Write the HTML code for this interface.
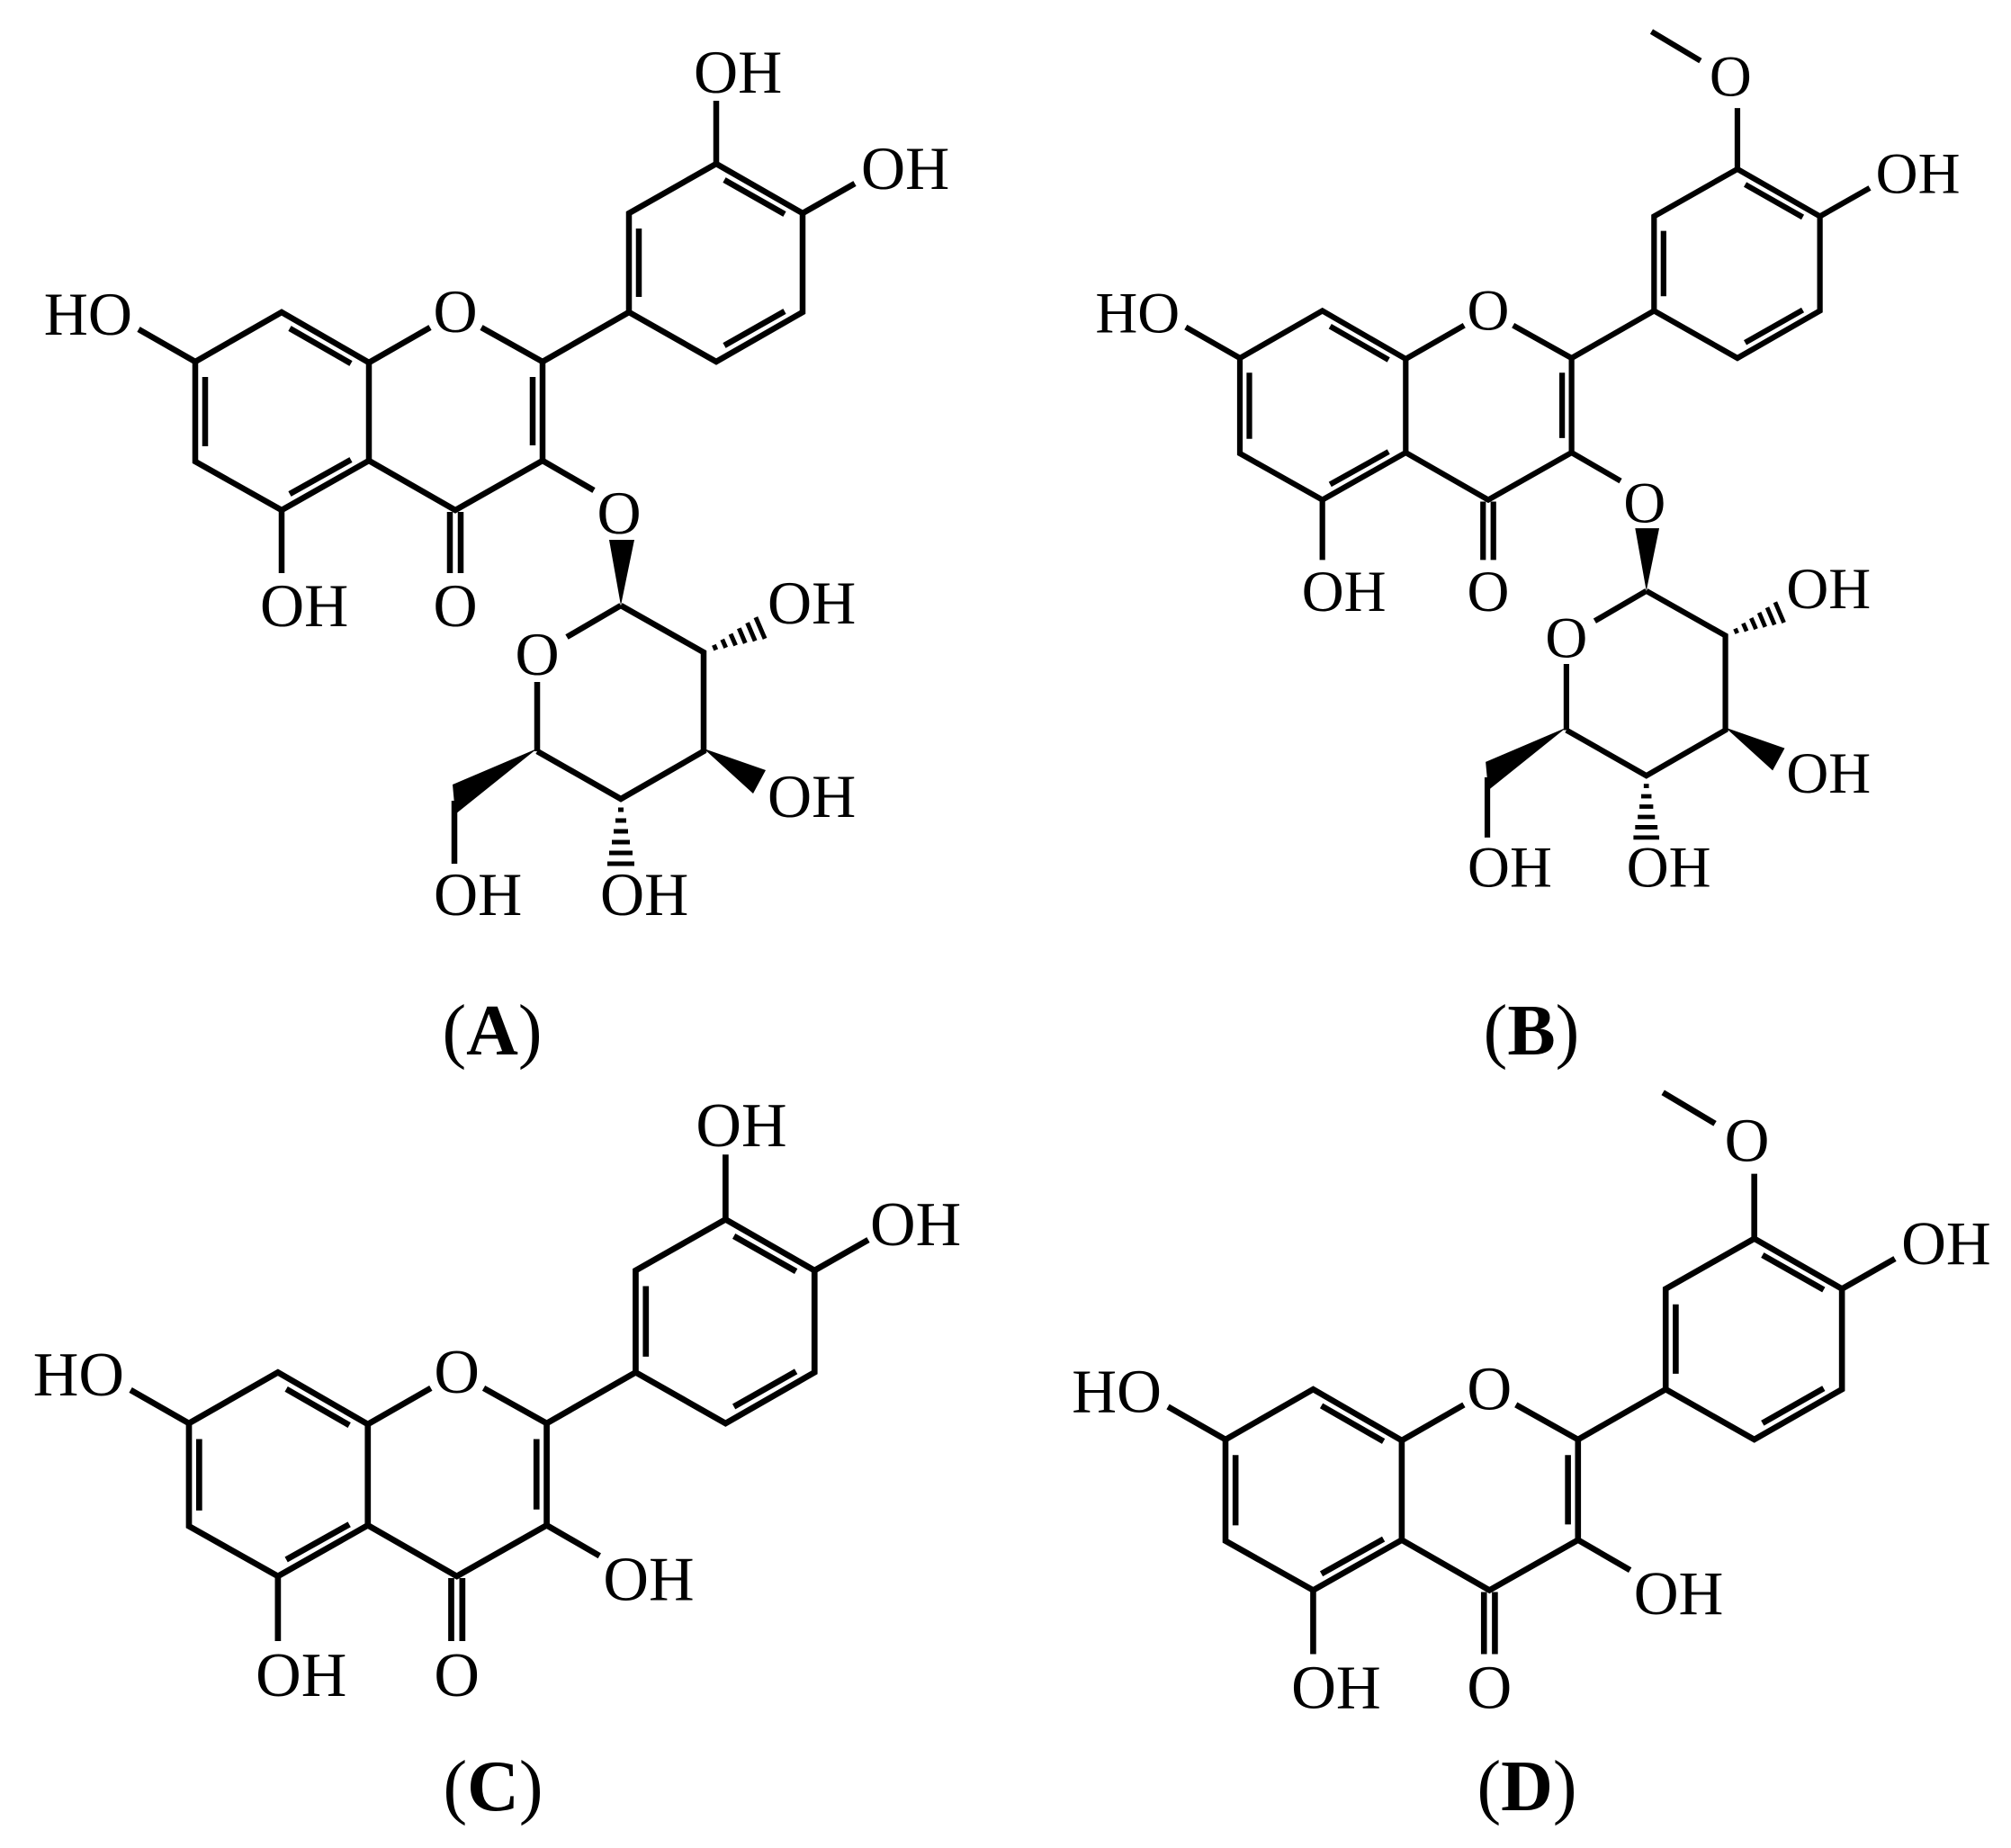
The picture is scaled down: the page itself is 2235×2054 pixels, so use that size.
<!DOCTYPE html>
<html><head><meta charset="utf-8"><style>
html,body{margin:0;padding:0;background:#fff;}
svg{display:block;}
text{font-family:"Liberation Serif","Times New Roman",Times,serif;fill:#000;}
.t{font-size:68px;}
.lab{font-size:80px;}
</style></head><body>
<svg width="2235" height="2054" viewBox="0 0 2235 2054" xmlns="http://www.w3.org/2000/svg" font-family="Liberation Serif, Times New Roman, Times, serif">
<defs>
<g id="core" fill="none" stroke="#000" stroke-width="6.5" stroke-linejoin="miter" stroke-linecap="butt">
  <polyline points="410,403 313,347 217,402 217,513 313,567 410,512 410,403"/>
  <line x1="228" y1="419" x2="228" y2="496"/>
  <line x1="322" y1="365" x2="390" y2="404"/>
  <line x1="390" y1="511" x2="322" y2="549"/>
  <line x1="410" y1="403" x2="478" y2="364"/>
  <polyline points="535,364 603,402 603,512 506,567 410,512"/>
  <line x1="592" y1="419" x2="592" y2="495"/>
  <line x1="500" y1="569" x2="500" y2="637"/>
  <line x1="512" y1="569" x2="512" y2="637"/>
  <line x1="313" y1="567" x2="313" y2="637"/>
  <line x1="217" y1="402" x2="154" y2="366"/>
  <line x1="603" y1="402" x2="699" y2="347"/>
  <polygon points="699,347 699,237 796,182 892,237 892,347 796,402"/>
  <line x1="710" y1="254" x2="710" y2="330"/>
  <line x1="805" y1="200" x2="872" y2="238"/>
  <line x1="872" y1="346" x2="805" y2="384"/>
  <line x1="892" y1="237" x2="950" y2="204"/>
  <line x1="603" y1="512" x2="660" y2="545"/>
</g>
<g id="cat" stroke="#000" stroke-width="6.5" fill="none">
  <line x1="796" y1="182" x2="796" y2="112"/>
</g>
<g id="ome" stroke="#000" stroke-width="6.5" fill="none">
  <line x1="796" y1="182" x2="796" y2="111"/>
  <line x1="753" y1="56" x2="696" y2="22"/>
</g>
<g id="sugar" stroke="#000" stroke-width="6.5" fill="none">
  <polygon points="677,600 705,600 690,673" fill="#000" stroke="none"/>
  <line x1="690" y1="673" x2="630" y2="708"/>
  <line x1="597" y1="758" x2="597" y2="835"/>
  <polyline points="690,673 782,725 782,835 690,888 597,835"/>
  <polygon points="597,832 503,872 506,905" fill="#000" stroke="none"/>
  <line x1="505" y1="890" x2="505" y2="960"/>
  <g stroke-width="5">
    <line x1="687" y1="900" x2="693" y2="900"/>
    <line x1="684" y1="912" x2="696" y2="912"/>
    <line x1="682" y1="924" x2="698" y2="924"/>
    <line x1="680" y1="936" x2="700" y2="936"/>
    <line x1="677" y1="948" x2="703" y2="948"/>
    <line x1="675" y1="960" x2="705" y2="960"/>
    <line x1="795.8" y1="722.4" x2="793.4" y2="716.8"/>
    <line x1="806.7" y1="719.9" x2="802.7" y2="710.7"/>
    <line x1="817.6" y1="717.4" x2="812" y2="704.6"/>
    <line x1="828.3" y1="714.9" x2="821.3" y2="698.3"/>
    <line x1="839.2" y1="712.4" x2="830.6" y2="692.2"/>
    <line x1="850.1" y1="709.9" x2="839.9" y2="686.1"/>
  </g>
  <polygon points="782,832 851,856 837,882" fill="#000" stroke="none"/>
</g>
</defs>

<!-- Panel A -->
<g>
  <use href="#core"/><use href="#cat"/><use href="#sugar"/>
  <text class="t" x="147" y="372" text-anchor="end">HO</text>
  <text class="t" x="506" y="369" text-anchor="middle">O</text>
  <text class="t" x="289" y="696">OH</text>
  <text class="t" x="506" y="696" text-anchor="middle">O</text>
  <text class="t" x="771" y="103">OH</text>
  <text class="t" x="957" y="210">OH</text>
  <text class="t" x="688" y="593" text-anchor="middle">O</text>
  <text class="t" x="597" y="750" text-anchor="middle">O</text>
  <text class="t" x="853" y="693">OH</text>
  <text class="t" x="853" y="908">OH</text>
  <text class="t" x="482" y="1017">OH</text>
  <text class="t" x="667" y="1017">OH</text>
</g>

<!-- Panel B -->
<g transform="translate(1378,398) scale(0.955) translate(-217,-402)">
  <use href="#core"/><use href="#ome"/><use href="#sugar"/>
  <text class="t" x="147" y="372" text-anchor="end">HO</text>
  <text class="t" x="506" y="369" text-anchor="middle">O</text>
  <text class="t" x="289" y="696">OH</text>
  <text class="t" x="506" y="696" text-anchor="middle">O</text>
  <text class="t" x="788" y="97" text-anchor="middle">O</text>
  <text class="t" x="957" y="210">OH</text>
  <text class="t" x="688" y="593" text-anchor="middle">O</text>
  <text class="t" x="597" y="750" text-anchor="middle">O</text>
  <text class="t" x="853" y="693">OH</text>
  <text class="t" x="853" y="908">OH</text>
  <text class="t" x="482" y="1017">OH</text>
  <text class="t" x="667" y="1017">OH</text>
</g>

<!-- Panel C -->
<g transform="translate(210,1582) scale(1.03) translate(-217,-402)">
  <use href="#core"/><use href="#cat"/>
  <text class="t" x="147" y="372" text-anchor="end">HO</text>
  <text class="t" x="506" y="369" text-anchor="middle">O</text>
  <text class="t" x="289" y="696">OH</text>
  <text class="t" x="506" y="696" text-anchor="middle">O</text>
  <text class="t" x="764" y="103">OH</text>
  <text class="t" x="952" y="210">OH</text>
  <text class="t" x="664" y="593">OH</text>
</g>

<!-- Panel D -->
<g transform="translate(1362,1600) scale(1.015) translate(-217,-402)">
  <use href="#core"/><use href="#ome"/>
  <text class="t" x="147" y="372" text-anchor="end">HO</text>
  <text class="t" x="506" y="369" text-anchor="middle">O</text>
  <text class="t" x="289" y="696">OH</text>
  <text class="t" x="506" y="696" text-anchor="middle">O</text>
  <text class="t" x="788" y="97" text-anchor="middle">O</text>
  <text class="t" x="957" y="210">OH</text>
  <text class="t" x="664" y="593">OH</text>
</g>

<text class="lab" x="547" y="1172" text-anchor="middle">(<tspan font-weight="bold">A</tspan>)</text>
<text class="lab" x="1702" y="1172" text-anchor="middle">(<tspan font-weight="bold">B</tspan>)</text>
<text class="lab" x="548" y="2012" text-anchor="middle">(<tspan font-weight="bold">C</tspan>)</text>
<text class="lab" x="1697" y="2012" text-anchor="middle">(<tspan font-weight="bold">D</tspan>)</text>
</svg>
</body></html>
